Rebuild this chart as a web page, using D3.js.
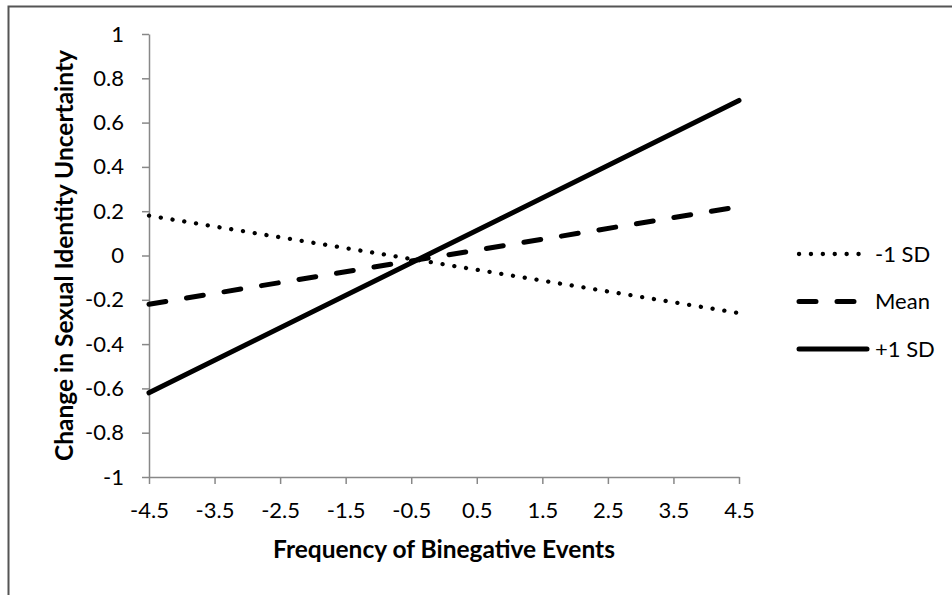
<!DOCTYPE html>
<html>
<head>
<meta charset="utf-8">
<script src="https://cdn.jsdelivr.net/npm/d3@7"></script>
<style>
  body { margin: 0; background: #fff; }
  text { font-family: Lato, "Open Sans", sans-serif; fill: #000; }
  .axis path, .axis line { stroke: #888; stroke-width: 1.5; }
  .axis text { font-size: 22px; font-family: Lato, "Open Sans", sans-serif; }
  .title { font-size: 22px; font-weight: bold; }
  .legend text { font-size: 22px; }
</style>
</head>
<body>
<svg id="chart" width="952" height="595"></svg>
<script>
// x ticks of the chart
var xTicks = [-4.5, -3.5, -2.5, -1.5, -0.5, 0.5, 1.5, 2.5, 3.5, 4.5];
var yTicks = [-1, -0.8, -0.6, -0.4, -0.2, 0, 0.2, 0.4, 0.6, 0.8, 1];

// simple slopes, value at low and high end of x
var seriesNames = ["-1 SD", "Mean", "+1 SD"];
var xEnds = [-4.5, 4.5];
var minus1SD = [0.18, -0.26];
var meanLine = [-0.22, 0.22];
var plus1SD = [-0.62, 0.70];

var svg = d3.select("#chart");
var margin = { top: 34, left: 149, right: 213, bottom: 118 },
  width = +svg.attr("width") - margin.left - margin.right,
  height = +svg.attr("height") - margin.top - margin.bottom;

// outer frame (right/bottom edges fall outside the picture)
svg.append("rect")
  .attr("x", 8.5).attr("y", 6.5)
  .attr("width", 1000).attr("height", 650)
  .attr("fill", "none")
  .attr("stroke", "#555")
  .attr("stroke-width", 2);

var g = svg.append("g")
  .attr("transform", "translate(" + margin.left + "," + margin.top + ")");

var x = d3.scaleLinear().domain([-4.5, 4.5]).range([0, width]);
var y = d3.scaleLinear().domain([-1, 1]).range([height, 0]);

var xAxis = g.append("g")
  .attr("class", "axis")
  .attr("transform", "translate(0," + height + ")")
  .call(d3.axisBottom(x).tickValues(xTicks).tickSize(7).tickSizeOuter(0).tickPadding(18)
    .tickFormat(function (d) { return d3.format(".1f")(d).replace("−", "-"); }));

var yAxis = g.append("g")
  .attr("class", "axis")
  .call(d3.axisLeft(y).tickValues(yTicks).tickSize(7).tickSizeOuter(0).tickPadding(18)
    .tickFormat(function (d) { return String(d); }));

g.selectAll(".axis").attr("font-size", null).attr("font-family", null);
g.selectAll(".axis .domain").attr("stroke", "#888");

// style for each series
var styles = {
  "-1 SD": { dash: "0.1 11.8", width: 4.3 },
  "Mean": { dash: "17 21", width: 5 },
  "+1 SD": { dash: null, width: 5 }
};

var series = [
  { name: "-1 SD", values: minus1SD },
  { name: "Mean", values: meanLine },
  { name: "+1 SD", values: plus1SD }
];

var line = d3.line()
  .x(function (d) { return x(d.x); })
  .y(function (d) { return y(d.y); });

g.selectAll(".trend")
  .data(series)
  .enter()
  .append("path")
  .attr("class", "trend")
  .attr("fill", "none")
  .attr("stroke", "#000")
  .attr("stroke-linecap", "round")
  .attr("stroke-width", function (d) { return styles[d.name].width; })
  .attr("stroke-dasharray", function (d) { return styles[d.name].dash; })
  .attr("d", function (d) {
    return line(xEnds.map(function (xv, i) { return { x: xv, y: d.values[i] }; }));
  });

// legend
var legend = svg.selectAll(".legend")
  .data(seriesNames)
  .enter()
  .append("g")
  .attr("class", "legend")
  .attr("transform", function (d, i) { return "translate(799," + (254 + i * 47.5) + ")"; });

legend.append("line")
  .attr("x1", 0).attr("x2", function (d) { return d === "+1 SD" ? 68 : 61; })
  .attr("stroke", "#000")
  .attr("stroke-linecap", "round")
  .attr("stroke-width", function (d) { return styles[d].width; })
  .attr("stroke-dasharray", function (d) { return styles[d].dash; });

legend.append("text")
  .attr("x", 76)
  .attr("dy", "0.36em")
  .text(function (d) { return d; });

// axis titles
var xTitle = svg.append("text")
  .attr("class", "title")
  .attr("x", 444)
  .attr("y", 558)
  .attr("text-anchor", "middle")
  .text("Frequency of Binegative Events");

// fit the title to the width seen in the reference (about 342px)
var fs = 22 * 342 / xTitle.node().getComputedTextLength();
xTitle.style("font-size", fs + "px");

svg.append("text")
  .attr("class", "title")
  .style("font-size", fs + "px")
  .attr("transform", "translate(73," + (margin.top + height / 2) + ") rotate(-90)")
  .attr("text-anchor", "middle")
  .text("Change in Sexual Identity Uncertainty");
</script>
</body>
</html>
